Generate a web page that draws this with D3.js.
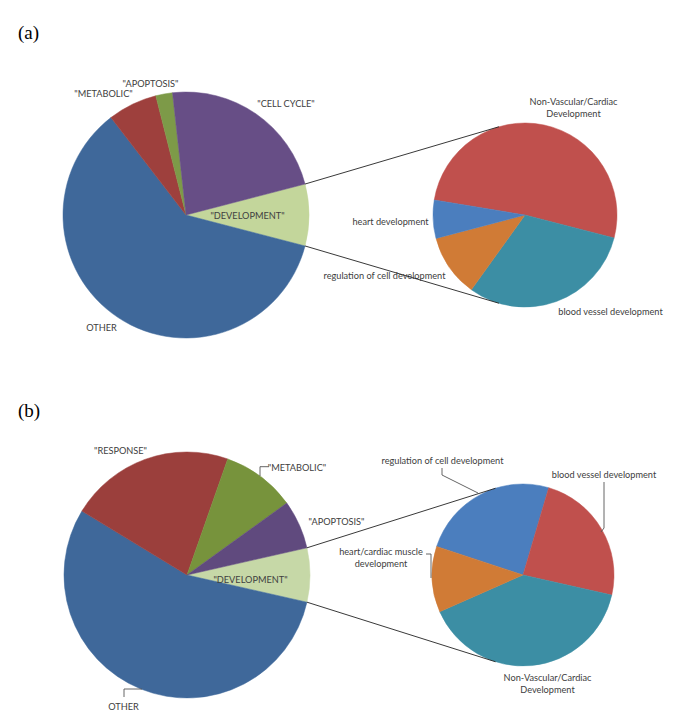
<!DOCTYPE html>
<html>
<head>
<meta charset="utf-8">
<script src="https://cdn.jsdelivr.net/npm/d3@7"></script>
<style>
  html, body { margin: 0; padding: 0; background: #fff; }
  svg { display: block; }
  .lbl { font-family: Lato, "Noto Sans", sans-serif; font-size: 9.2px; fill: #404040; }
  .panel { font-family: "Liberation Serif", "DejaVu Serif", serif; font-size: 19px; fill: #000; }
</style>
</head>
<body>
<svg id="chart" width="685" height="718"></svg>
<script>
// ---------------- DATA ----------------
// Panel (a) primary pie (clockwise, starting with the split-off slice)
const mainCatsA = ["\"DEVELOPMENT\"", "OTHER", "\"METABOLIC\"", "\"APOPTOSIS\"", "\"CELL CYCLE\""];
const mainValsA = [8.1, 60.5, 6.5, 2.2, 22.7];
// Panel (a) secondary pie (breakdown of DEVELOPMENT)
const subCatsA = ["Non-Vascular/Cardiac|Development", "blood vessel development", "regulation of cell development", "heart development"];
const subValsA = [51.4, 30.9, 11.0, 6.7];

// Panel (b) primary pie
const mainCatsB = ["\"DEVELOPMENT\"", "OTHER", "\"RESPONSE\"", "\"METABOLIC\"", "\"APOPTOSIS\""];
const mainValsB = [7.1, 55.2, 21.7, 9.7, 6.4];
// Panel (b) secondary pie
const subCatsB = ["regulation of cell development", "blood vessel development", "Non-Vascular/Cardiac|Development", "heart/cardiac muscle|development"];
const subValsB = [24.5, 24.0, 39.9, 11.7];

const panelLabels = ["(a)", "(b)"];

// ---------------- STYLE / LAYOUT ----------------
const colorsMainA = ["#C3D69B", "#3F689A", "#9E403D", "#7D9A48", "#674E86"];
const colorsSubA  = ["#C0504D", "#3C8EA4", "#D07B36", "#4B7EBE"];
const colorsMainB = ["#C6D8A7", "#3F689A", "#9B3F3C", "#77933C", "#604A7E"];
const colorsSubB  = ["#4B7EBE", "#C0504D", "#3C8EA4", "#D07B36"];

const panels = [
  {
    label: panelLabels[0], labelPos: [18, 39],
    main: { cx: 186, cy: 215, r: 123, cats: mainCatsA, vals: mainValsA, colors: colorsMainA,
      labelOff: [[61.5, 0.6], [-84.5, 113], [-82.5, -121], [-35.5, -131], [100, -111]],
      leaders: [] },
    sub: { cx: 525, cy: 215, r: 92, cats: subCatsA, vals: subValsA, colors: colorsSubA, startDeg: -80.6,
      labelOff: [[48.5, -113], [85.5, 97], [-140.5, 61], [-134.5, 7]],
      leaders: [] }
  },
  {
    label: panelLabels[1], labelPos: [18, 417],
    main: { cx: 187, cy: 575, r: 123, cats: mainCatsB, vals: mainValsB, colors: colorsMainB,
      labelOff: [[63.5, 5], [-63.5, 131.7], [-66.5, -124.3], [110, -107.3], [149.5, -53]],
      leaders: [
        [[73, -99], [73, -108.3], [82, -108.3]],
        [[-45, 114], [-63, 114], [-63, 122]]
      ] },
    sub: { cx: 523, cy: 575, r: 91, cats: subCatsB, vals: subValsB, colors: colorsSubB, startDeg: -71.7,
      labelOff: [[-80.5, -114.3], [81, -100], [24.5, 102.7], [-142, -23.3]],
      leaders: [
        [[-45, -82], [-81, -100], [-81, -107]],
        [[78, -43], [81, -47], [81, -93]],
        [[-92, 3], [-92, -21], [-97, -21]]
      ] }
  }
];

const svg = d3.select("#chart");
const deg = Math.PI / 180;

function drawPie(g, spec, startAngle) {
  const pie = d3.pie().sort(null).value(d => d).startAngle(startAngle).endAngle(startAngle + 2 * Math.PI);
  const arcs = pie(spec.vals);
  const arc = d3.arc().innerRadius(0).outerRadius(spec.r);
  const pg = g.append("g").attr("transform", `translate(${spec.cx},${spec.cy})`);
  pg.selectAll("path.slice").data(arcs).join("path")
    .attr("class", "slice")
    .attr("d", arc)
    .attr("fill", (d, i) => spec.colors[i])
    .attr("stroke", (d, i) => spec.colors[i])
    .attr("stroke-width", 0.5);

  // leader lines
  spec.leaders.forEach(pts => {
    pg.append("path")
      .attr("d", d3.line()(pts))
      .attr("fill", "none")
      .attr("stroke", "#555")
      .attr("stroke-width", 0.9);
  });

  // labels
  spec.cats.forEach((c, i) => {
    const lines = c.split("|");
    const off = spec.labelOff[i];
    const t = pg.append("text").attr("class", "lbl")
      .attr("text-anchor", "middle")
      .attr("x", off[0]).attr("y", off[1]);
    lines.forEach((ln, k) => {
      t.append("tspan").attr("x", off[0]).attr("dy", k === 0 ? "0.35em" : "1.33em").text(ln);
    });
  });
  return arcs;
}

function tangentPoint(P, C, r, sign) {
  const dx = P[0] - C[0], dy = P[1] - C[1];
  const d = Math.hypot(dx, dy);
  const base = Math.atan2(dy, dx);
  const a = Math.acos(r / d);
  const t = base + sign * a;
  return [C[0] + r * Math.cos(t), C[1] + r * Math.sin(t)];
}

panels.forEach(p => {
  const g = svg.append("g");
  g.append("text").attr("class", "panel").attr("x", p.labelPos[0]).attr("y", p.labelPos[1]).text(p.label);

  // primary pie: split-off slice centred on 3 o'clock
  const total = d3.sum(p.main.vals);
  const devSpan = p.main.vals[0] / total * 2 * Math.PI;
  const start = Math.PI / 2 - devSpan / 2;
  const arcs = drawPie(g, p.main, start);

  const sub = p.sub;
  drawPie(g, sub, sub.startDeg * deg);

  // connector lines from split-off slice edges tangent to the secondary pie
  const a0 = arcs[0].startAngle, a1 = arcs[0].endAngle;
  const P0 = [p.main.cx + p.main.r * Math.sin(a0), p.main.cy - p.main.r * Math.cos(a0)];
  const P1 = [p.main.cx + p.main.r * Math.sin(a1), p.main.cy - p.main.r * Math.cos(a1)];
  const C = [sub.cx, sub.cy];
  const T0 = tangentPoint(P0, C, sub.r, 1);
  const T1 = tangentPoint(P1, C, sub.r, -1);
  [[P0, T0], [P1, T1]].forEach(seg => {
    g.append("line")
      .attr("x1", seg[0][0]).attr("y1", seg[0][1])
      .attr("x2", seg[1][0]).attr("y2", seg[1][1])
      .attr("stroke", "#222").attr("stroke-width", 0.9);
  });
});
</script>
</body>
</html>
